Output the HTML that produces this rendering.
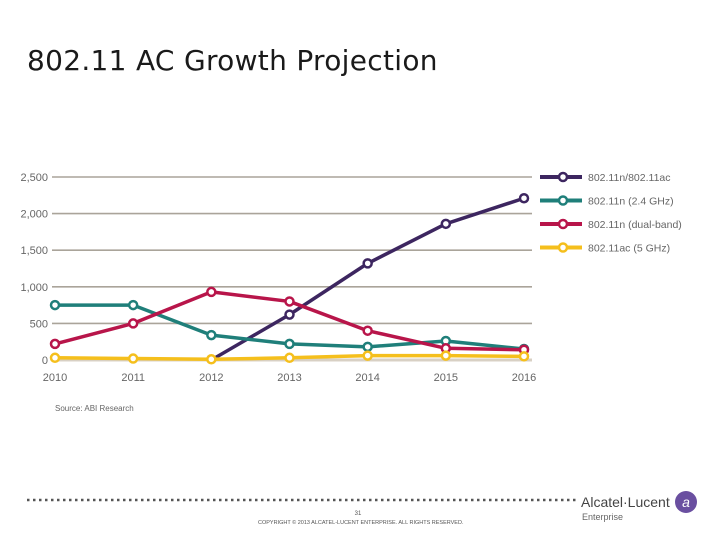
<!DOCTYPE html>
<html><head><meta charset="utf-8"><style>
body{margin:0;width:720px;height:540px;background:#fff;overflow:hidden;font-family:"Liberation Sans",sans-serif;position:relative}
#title{position:absolute;left:27px;top:44px;font-size:28px;color:#1a1a1a;font-family:"DejaVu Sans","Liberation Sans",sans-serif;letter-spacing:0.3px}
</style></head><body>
<div id="title">802.11 AC Growth Projection</div>
<svg id="chart" width="720" height="540" style="position:absolute;left:0;top:0"></svg>
<script>
const years=["2010","2011","2012","2013","2014","2015","2016"];
const yTicks=[0,500,1000,1500,2000,2500];
const yTickLabels=["0","500","1,000","1,500","2,000","2,500"];
const names=["802.11n/802.11ac","802.11n (2.4 GHz)","802.11n (dual-band)","802.11ac (5 GHz)"];
const colors=["#3d2660","#1f7f7a","#b8154a","#f5bf1c"];
const sPurple=[null,null,0,620,1320,1860,2210];
const sTeal=[750,750,340,220,180,260,150];
const sRed=[220,500,930,800,400,160,140];
const sYellow=[30,20,10,30,60,60,50];
const series=[sPurple,sTeal,sRed,sYellow];
const NS="http://www.w3.org/2000/svg",svg=document.getElementById('chart');
const x=i=>55+i*(524-55)/6, y=v=>360-v*(183/2500);
function mk(t,a){const e=document.createElementNS(NS,t);for(const k in a)e.setAttribute(k,a[k]);svg.appendChild(e);return e;}
yTicks.forEach((v,i)=>{
 const g=mk('line',{x1:52,x2:532,y1:y(v),y2:y(v),stroke:v===0?'#d8d0c4':'#aaa49a','stroke-width':v===0?3:1.6});
 
 
 const t=mk('text',{x:48,y:y(v)+4,'text-anchor':'end','font-size':11,fill:'#666'});t.textContent=yTickLabels[i];
 
 
});
years.forEach((yr,i)=>{
 const t=mk('text',{x:x(i),y:381,'text-anchor':'middle','font-size':11,fill:'#666'});t.textContent=yr;
 
 
});
const src=mk('text',{x:55,y:411,'font-size':8,fill:'#666'});src.textContent='Source: ABI Research';


series.forEach((s,si)=>{
 const pts=[];s.forEach((v,i)=>{if(v!==null)pts.push([x(i),y(v),i]);});
 const pl=mk('polyline',{points:pts.map(p=>p[0]+','+p[1]).join(' '),fill:'none',stroke:colors[si],'stroke-width':3.5,'stroke-linejoin':'round'});
 
 
 pts.forEach((p,k)=>{
  if(si===0&&k===0)return;
  const c=mk('circle',{cx:p[0],cy:p[1],r:4,fill:'#fff',stroke:colors[si],'stroke-width':2.5});
  
  
 });
});
names.forEach((n,i)=>{
 const ly=177+i*23.5;
 const l=mk('line',{x1:540,x2:582,y1:ly,y2:ly,stroke:colors[i],'stroke-width':4});
 
 
 const c=mk('circle',{cx:563,cy:ly,r:4,fill:'#fff',stroke:colors[i],'stroke-width':2.5});
 
 
 const t=mk('text',{x:588,y:ly+4,'font-size':10.5,fill:'#666'});t.textContent=n;
 
 
});
const d=mk('line',{x1:27,x2:578,y1:500,y2:500,stroke:'#555','stroke-width':2.5,'stroke-dasharray':'2.5 3.5'});


const pg=mk('text',{x:358,y:515,'font-size':6,fill:'#555','text-anchor':'middle'});pg.textContent='31';


const cp=mk('text',{x:258,y:524,'font-size':5.5,fill:'#555'});cp.textContent='COPYRIGHT © 2013 ALCATEL-LUCENT ENTERPRISE. ALL RIGHTS RESERVED.';


const lg=mk('text',{x:581,y:507,'font-size':14,fill:'#444'});lg.textContent='Alcatel·Lucent';


const en=mk('text',{x:582,y:520,'font-size':9,fill:'#666'});en.textContent='Enterprise';


const lc=mk('circle',{cx:686,cy:502,r:11,fill:'#6a4fa0'});


const la=mk('text',{x:686,y:507,'font-size':14,fill:'#fff','text-anchor':'middle','font-style':'italic'});la.textContent='a';


</script>
</body></html>
